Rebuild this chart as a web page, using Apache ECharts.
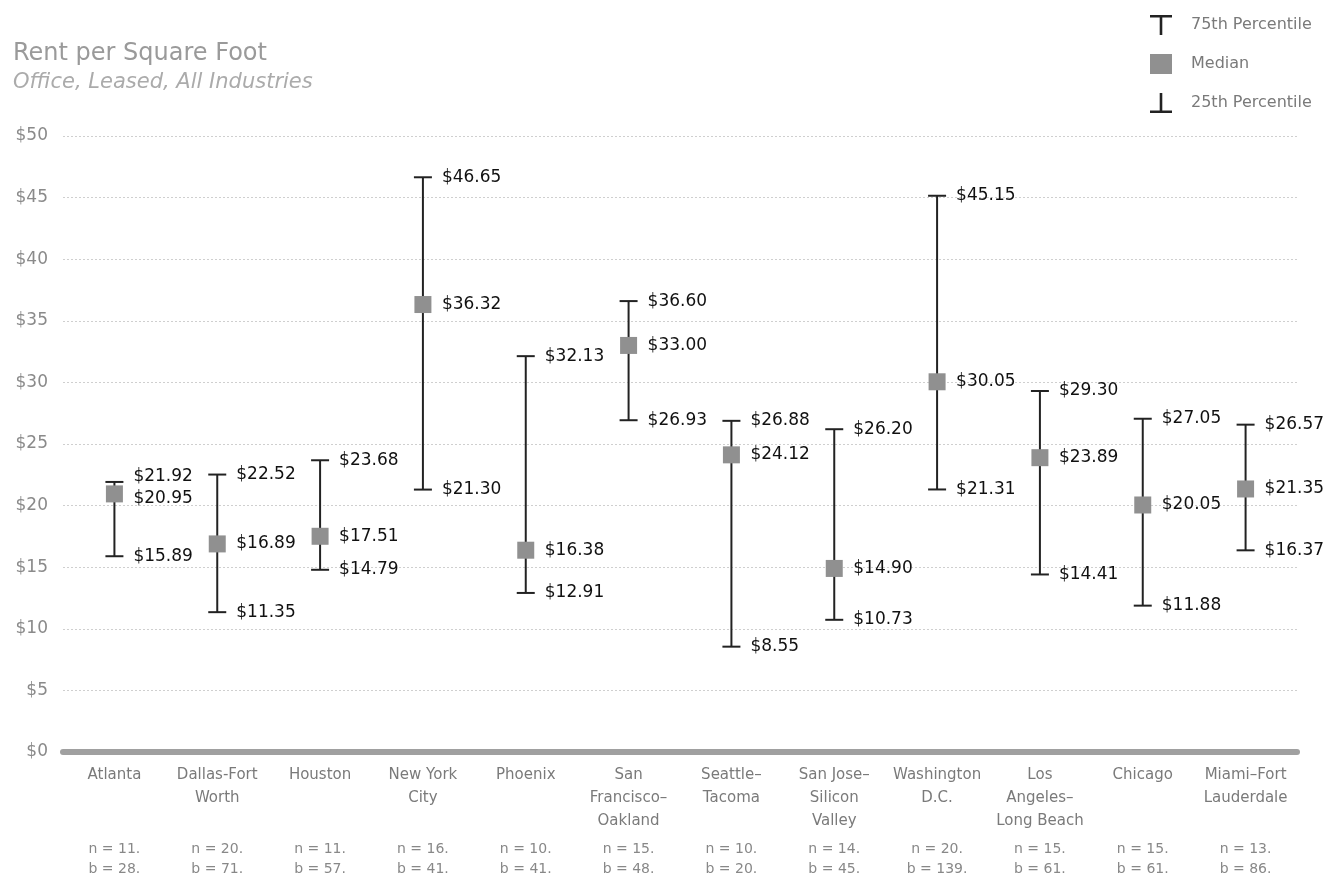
<!DOCTYPE html>
<html>
<head>
<meta charset="utf-8">
<script src="https://cdn.jsdelivr.net/npm/echarts@6/dist/echarts.min.js"></script>
<style>
html,body{margin:0;padding:0;background:#fff;}
#chart{width:1330px;height:877px;}
</style>
</head>
<body>
<div id="chart"></div>
<script>
const categories = ['Atlanta', 'Dallas-Fort\nWorth', 'Houston', 'New York\nCity', 'Phoenix', 'San\nFrancisco–\nOakland', 'Seattle–\nTacoma', 'San Jose–\nSilicon\nValley', 'Washington\nD.C.', 'Los\nAngeles–\nLong Beach', 'Chicago', 'Miami–Fort\nLauderdale'];
const p75 = [21.92, 22.52, 23.68, 46.65, 32.13, 36.60, 26.88, 26.20, 45.15, 29.30, 27.05, 26.57];
const median = [20.95, 16.89, 17.51, 36.32, 16.38, 33.00, 24.12, 14.90, 30.05, 23.89, 20.05, 21.35];
const p25 = [15.89, 11.35, 14.79, 21.30, 12.91, 26.93, 8.55, 10.73, 21.31, 14.41, 11.88, 16.37];
const nCounts = [11, 20, 11, 16, 10, 15, 10, 14, 20, 15, 15, 13];
const bCounts = [28, 71, 57, 41, 41, 48, 20, 45, 139, 61, 61, 86];
const yTicks = [0, 5, 10, 15, 20, 25, 30, 35, 40, 45, 50];

const FONT = '"DejaVu Sans", "Noto Sans", sans-serif';
const chart = echarts.init(document.getElementById('chart'));

const whiskerData = categories.map((c, i) => [i, p25[i], median[i], p75[i]]);
const fmt = v => '$' + v.toFixed(2);

function renderItem(params, api) {
  const i = api.value(0);
  const lo = api.value(1), md = api.value(2), hi = api.value(3);
  const top = api.coord([i, hi]);
  const mid = api.coord([i, md]);
  const bot = api.coord([i, lo]);
  const cx = top[0];
  const cap = 9;
  let yTop = top[1], yMid = mid[1], yBot = bot[1];
  const minGap = 22;
  if (yMid - yTop < minGap) { const d = (minGap - (yMid - yTop)) / 2; yTop -= d; yMid += d; }
  if (yBot - yMid < minGap) { const d = (minGap - (yBot - yMid)) / 2; yMid -= d; yBot += d; }
  const ls = { stroke: '#222', lineWidth: 2 };
  const txt = (y, v) => ({
    type: 'text',
    style: { x: cx + 19, y: y, text: fmt(v), fill: '#111', font: '17px ' + FONT, textVerticalAlign: 'middle', textAlign: 'left' }
  });
  return {
    type: 'group',
    children: [
      { type: 'line', shape: { x1: cx, y1: top[1], x2: cx, y2: bot[1] }, style: ls },
      { type: 'line', shape: { x1: cx - cap, y1: top[1], x2: cx + cap, y2: top[1] }, style: ls },
      { type: 'line', shape: { x1: cx - cap, y1: bot[1], x2: cx + cap, y2: bot[1] }, style: ls },
      txt(yTop, hi), txt(yMid, md), txt(yBot, lo)
    ]
  };
}

const option = {
  backgroundColor: '#fff',
  animation: false,
  title: {
    text: 'Rent per Square Foot',
    subtext: 'Office, Leased, All Industries',
    left: 8, top: 37,
    itemGap: 6,
    textStyle: { fontFamily: FONT, fontSize: 24, fontWeight: 'normal', color: '#9a9a9a' },
    subtextStyle: { fontFamily: FONT, fontSize: 21, fontStyle: 'italic', color: '#ababab' }
  },
  legend: {
    orient: 'vertical',
    left: 1145, top: 10,
    itemWidth: 22, itemHeight: 20,
    itemGap: 19,
    textStyle: { fontFamily: FONT, fontSize: 16, color: '#7a7a7a', padding: [0, 0, 0, 14] },
    data: [
      { name: '75th Percentile', icon: 'path://M0,0 L22,0 L22,2.6 L12.3,2.6 L12.3,20 L9.7,20 L9.7,2.6 L0,2.6 Z' },
      { name: 'Median', icon: 'rect' },
      { name: '25th Percentile', icon: 'path://M9.7,0 L12.3,0 L12.3,17.4 L22,17.4 L22,20 L0,20 L0,17.4 L9.7,17.4 Z' }
    ]
  },
  grid: { left: 63, right: 33, top: 136, bottom: 125, containLabel: false, outerBoundsMode: 'none' },
  xAxis: [
    {
      type: 'category',
      data: categories,
      position: 'bottom',
      axisLine: { show: true, lineStyle: { color: '#a0a0a0', width: 6 } },
      axisTick: { show: false },
      axisLabel: { fontFamily: FONT, fontSize: 15, color: '#7a7a7a', lineHeight: 23, margin: 12, interval: 0 }
    },
    {
      type: 'category',
      data: categories.map((c, i) => 'n = ' + nCounts[i] + '.\nb = ' + bCounts[i] + '.'),
      position: 'bottom',
      offset: 79,
      axisLine: { show: false },
      axisTick: { show: false },
      axisLabel: { fontFamily: FONT, fontSize: 14, color: '#888', lineHeight: 20, margin: 8, interval: 0 }
    }
  ],
  yAxis: {
    type: 'value',
    min: yTicks[0], max: yTicks[yTicks.length - 1], interval: 5,
    axisLine: { show: false },
    axisTick: { show: false },
    axisLabel: { fontFamily: FONT, fontSize: 17, color: '#8a8a8a', margin: 15, formatter: v => '$' + v },
    splitLine: { show: true, lineStyle: { color: '#cfcfcf', type: [2, 2], width: 1 } }
  },
  series: [
    {
      name: '75th Percentile',
      type: 'custom',
      renderItem: renderItem,
      itemStyle: { color: '#222' },
      encode: { x: 0, y: [1, 2, 3] },
      data: whiskerData,
      z: 2
    },
    {
      name: 'Median',
      type: 'scatter',
      symbol: 'rect',
      symbolSize: 17,
      itemStyle: { color: '#909090', opacity: 1 },
      data: median,
      z: 3
    },
    {
      name: '25th Percentile',
      type: 'scatter',
      itemStyle: { color: '#222', opacity: 1 },
      data: []
    }
  ]
};
chart.setOption(option);
</script>
</body>
</html>
